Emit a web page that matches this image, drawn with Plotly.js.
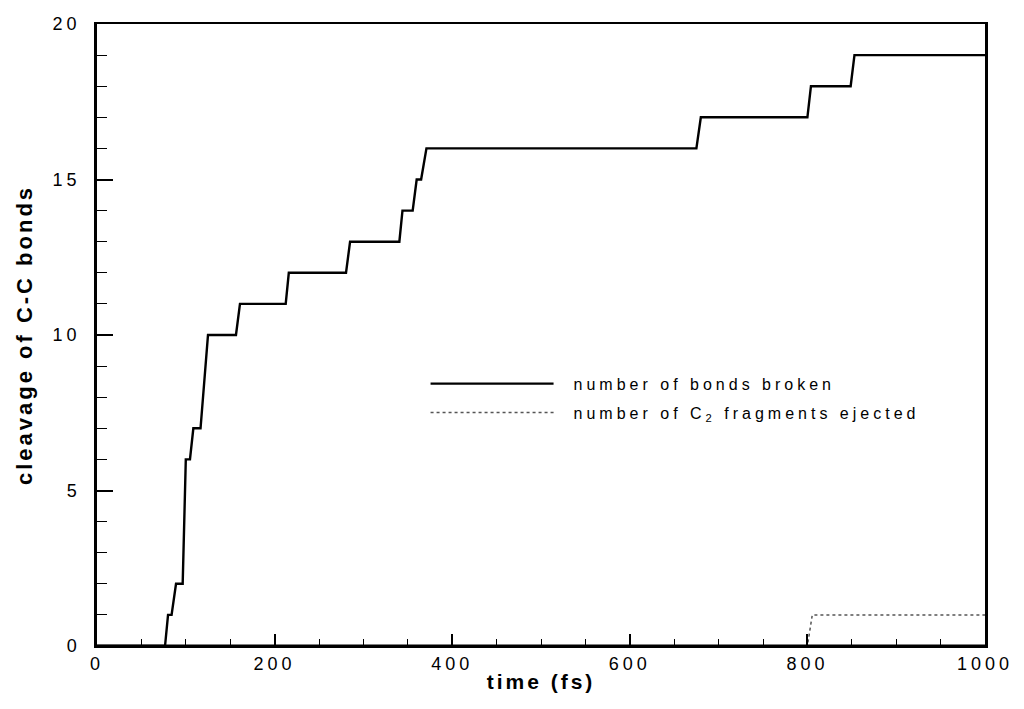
<!DOCTYPE html>
<html>
<head>
<meta charset="utf-8">
<script src="https://cdn.plot.ly/plotly-3.0.1.min.js"></script>
<style>
  html, body { margin: 0; padding: 0; background: #fff; }
  #chart { width: 1024px; height: 709px; }
  .legendtext { letter-spacing: 4px; transform: translate(15px, 0px); }
  .legend .scrollbox { clip-path: none !important; }
  .xtitle, .ytitle { letter-spacing: 3px; }
  g.xtick text, g.ytick text, text.xtick, text.ytick { letter-spacing: 4px; }
</style>
</head>
<body>
<div id="chart"></div>
<script>
// time (fs) and number of C-C bonds broken
const bondsTime  = [0, 76.6, 80, 84, 89, 96.5, 100, 104.7, 108.5, 116.6, 125, 156.5, 161, 212.5, 216, 280.4, 285, 340.5, 344, 355.5, 360, 365, 371, 675, 680, 800, 804, 848.7, 853, 1000];
const bondsCount = [0, 0, 1, 1, 2, 2, 6, 6, 7, 7, 10, 10, 11, 11, 12, 12, 13, 13, 14, 14, 15, 15, 16, 16, 17, 17, 18, 18, 19, 19];

// time (fs) and number of C2 fragments ejected
const fragTime  = [0, 800, 805.5, 1000];
const fragCount = [0, 0, 1, 1];

const seriesNames = ['number of bonds broken', 'number of C<sub>2</sub> fragments ejected'];
const xTitle = 'time (fs)';
const yTitle = 'cleavage of C-C bonds';

const FONT = 'Liberation Sans, Arial, Helvetica, sans-serif';

const traces = [
  {
    x: bondsTime, y: bondsCount, type: 'scatter', mode: 'lines',
    name: seriesNames[0], legendgroup: 'a',
    line: {color: '#000', width: 2.4},
    hoverinfo: 'x+y'
  },
  {
    x: fragTime, y: fragCount, type: 'scatter', mode: 'lines',
    name: seriesNames[1], legendgroup: 'b',
    line: {color: '#555', width: 1.5, dash: 'dot'},
    hoverinfo: 'x+y'
  }
];

const layout = {
  width: 1024, height: 709,
  margin: {l: 97, r: 39, t: 24, b: 63, pad: 0},
  paper_bgcolor: '#fff', plot_bgcolor: '#fff',
  font: {family: FONT, color: '#000', size: 16},
  showlegend: true,
  legend: {
    x: 0.37, y: 0.449, xanchor: 'left', yanchor: 'top',
    bgcolor: 'rgba(0,0,0,0)', borderwidth: 0,
    font: {family: FONT, size: 16, color: '#000'},
    itemwidth: 123, traceorder: 'grouped', tracegroupgap: 5
  },
  // frame line along the zero baseline, drawn above the traces as in the original plot frame
  shapes: [
    {type: 'line', xref: 'paper', yref: 'y', x0: 0, x1: 1, y0: 0, y1: 0,
     layer: 'above', line: {color: '#000', width: 3}}
  ],
  xaxis: {
    range: [0, 1000], tick0: 0, dtick: 200,
    ticks: 'inside', ticklen: 12, tickwidth: 2, tickcolor: '#000',
    minor: {dtick: 50, ticks: 'inside', ticklen: 7, tickwidth: 1, tickcolor: '#000', showgrid: false},
    showline: true, linewidth: 2, linecolor: '#000', mirror: true,
    showgrid: false, zeroline: false,
    tickfont: {family: FONT, size: 18, color: '#000'},
    title: {text: xTitle, font: {family: FONT, size: 21, weight: 'bold', color: '#000'}, standoff: 2}
  },
  yaxis: {
    range: [0, 20], tick0: 0, dtick: 5,
    ticks: 'inside', ticklen: 16, tickwidth: 2, tickcolor: '#000',
    minor: {dtick: 1, ticks: 'inside', ticklen: 10, tickwidth: 1, tickcolor: '#000', showgrid: false},
    showline: true, linewidth: 2.5, linecolor: '#000', mirror: true,
    showgrid: false, zeroline: false,
    ticklabelstandoff: 10,
    tickfont: {family: FONT, size: 18, color: '#000'},
    title: {text: yTitle, font: {family: FONT, size: 22, weight: 'bold', color: '#000'}, standoff: 14}
  }
};

Plotly.newPlot('chart', traces, layout, {displayModeBar: false, responsive: false});
</script>
</body>
</html>
